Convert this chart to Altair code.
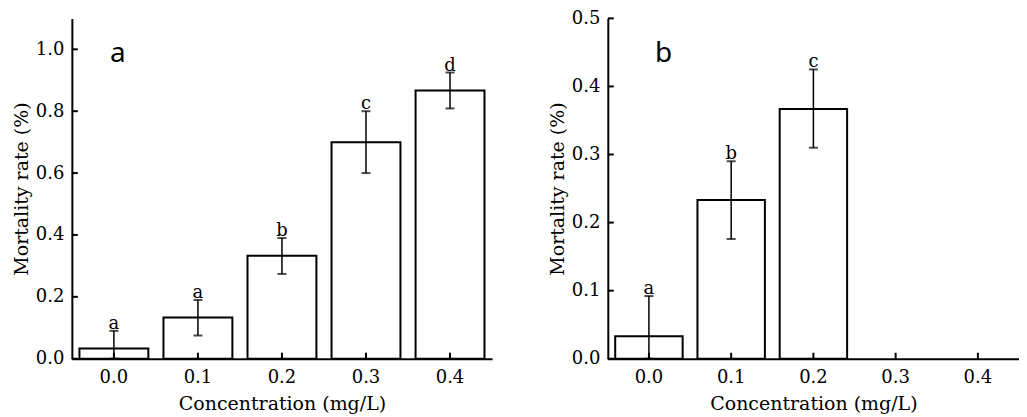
import altair as alt
import pandas as pd

categories = ["0.0", "0.1", "0.2", "0.3", "0.4"]

a_mean = [0.033, 0.133, 0.333, 0.700, 0.867]
a_upper = [0.090, 0.190, 0.390, 0.800, 0.925]
a_lower = [0.000, 0.075, 0.274, 0.600, 0.809]
a_letters = ["a", "a", "b", "c", "d"]
a_yticks = [0.0, 0.2, 0.4, 0.6, 0.8, 1.0]

b_mean = [0.033, 0.233, 0.367, None, None]
b_upper = [0.092, 0.290, 0.425, None, None]
b_lower = [0.000, 0.176, 0.310, None, None]
b_letters = ["a", "b", "c", None, None]
b_yticks = [0.0, 0.1, 0.2, 0.3, 0.4, 0.5]

FONT = "DejaVu Serif"
H = 341


def panel(mean, upper, lower, letters, yticks, ymax, tag, W, tagx):
    df = pd.DataFrame({"c": categories, "m": mean, "u": upper, "l": lower, "t": letters}).dropna(subset=["m"])
    xs = alt.Scale(domain=categories, paddingInner=0.18, paddingOuter=0.09)
    ys = alt.Scale(domain=[0, ymax], nice=False, zero=True)
    xaxis = alt.Axis(title="Concentration (mg/L)", labelAngle=0, ticks=False, tickSize=0,
                     labelPadding=10, titlePadding=8, domainWidth=2, domainColor="black",
                     labelFont=FONT, titleFont=FONT, labelFontSize=18, titleFontSize=19,
                     titleFontWeight="normal", labelColor="black", titleColor="black", grid=False)
    yaxis = alt.Axis(title="Mortality rate (%)", values=yticks, format=".1f", ticks=False, tickSize=0,
                     labelPadding=8, titlePadding=4, domainWidth=2, domainColor="black",
                     labelFont=FONT, titleFont=FONT, labelFontSize=18, titleFontSize=19,
                     titleFontWeight="normal", labelColor="black", titleColor="black", grid=False)

    def X(f):
        return alt.X(f, scale=xs, axis=xaxis, sort=categories)

    def Y(f):
        return alt.Y(f, scale=ys, axis=yaxis)

    base = alt.Chart(df)
    bars = base.mark_bar(fill="white", stroke="black", strokeWidth=2).encode(x=X("c:N"), y=Y("m:Q"))
    err = base.mark_rule(color="black", strokeWidth=1.5).encode(x=X("c:N"), y=Y("l:Q"), y2="u:Q")
    capu = base.mark_tick(color="black", thickness=2, size=9).encode(x=X("c:N"), y=Y("u:Q"))
    capl = base.mark_tick(color="black", thickness=2, size=9).encode(x=X("c:N"), y=Y("l:Q"))
    lets = base.mark_text(font=FONT, fontSize=18, baseline="alphabetic", dy=-2, color="black").encode(
        x=X("c:N"), y=Y("u:Q"), text="t:N")
    yt = alt.Chart(pd.DataFrame({"v": yticks})).mark_rule(color="black", strokeWidth=2).encode(
        y=Y("v:Q"), x=alt.value(0), x2=alt.value(6))
    xt = alt.Chart(pd.DataFrame({"c": categories})).mark_rule(color="black", strokeWidth=2).encode(
        x=X("c:N"), y=alt.value(H), y2=alt.value(H - 6))
    lab = alt.Chart(pd.DataFrame({"t": [tag]})).mark_text(
        font="Noto Sans", fontSize=28, align="center", baseline="alphabetic", color="black").encode(
        text="t:N", x=alt.value(tagx), y=alt.value(44))
    return alt.layer(bars, err, capu, capl, lets, yt, xt, lab).properties(width=W, height=H)


pa = panel(a_mean, a_upper, a_lower, a_letters, a_yticks, 1.1, "a", 421, 46)
pb = panel(b_mean, b_upper, b_lower, b_letters, b_yticks, 0.5, "b", 412, 56)

chart = alt.hconcat(pa, pb, spacing=56).properties(
    padding={"left": 4, "top": 1, "right": 0, "bottom": 0}, background="white"
).configure_view(stroke=None)

chart.save("out.html", embed_options={"renderer": "svg", "actions": False})
